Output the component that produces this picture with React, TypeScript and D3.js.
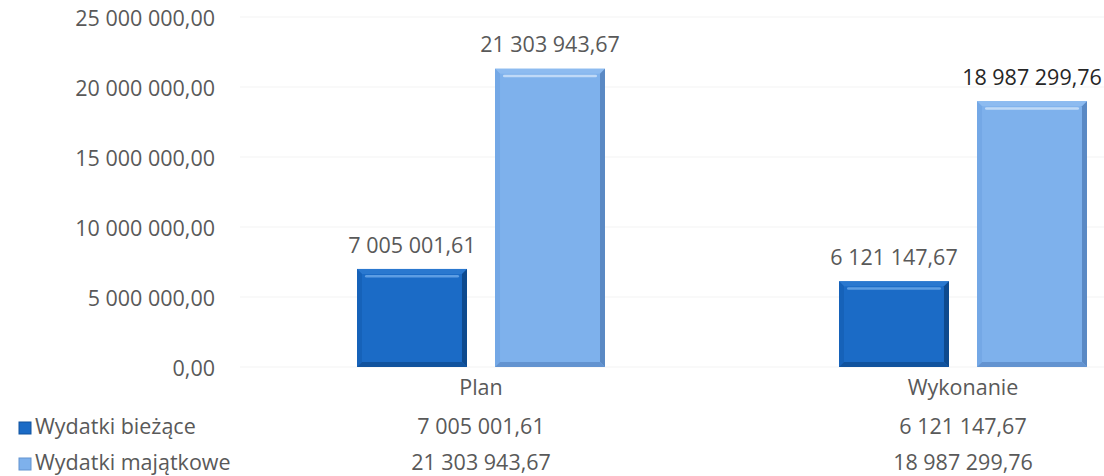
import React from "react";
import * as d3 from "d3";

const categories = ["Plan", "Wykonanie"];
const seriesNames = ["Wydatki bieżące", "Wydatki majątkowe"];
const biezace = [7005001.61, 6121147.67];
const majatkowe = [21303943.67, 18987299.76];
const yTicks = [0, 5000000, 10000000, 15000000, 20000000, 25000000];

const W = 1104;
const H = 476;
const FONT = "'Open Sans', 'Noto Sans', sans-serif";
const FS = 21.5;

const fmt = (v: number) => {
  const [i, d] = v.toFixed(2).split(".");
  return i.replace(/\B(?=(\d{3})+(?!\d))/g, " ") + "," + d;
};

const palettes = [
  { base: "#1b6bc6", top: "#2a78cf", hl: "#6eaaea", side: "#1662b9", bottom: "#11539e", right: "#0e4a8e" },
  { base: "#7eb1ec", top: "#8dbbf0", hl: "#cfe3fa", side: "#74a8e6", bottom: "#6393d0", right: "#5a89c4" },
];

function Bar({ x, y, w, h, p }: { x: number; y: number; w: number; h: number; p: typeof palettes[0] }) {
  const b = 5;
  return (
    <g>
      <rect x={x} y={y} width={w} height={h} fill={p.base} />
      <polygon points={`${x},${y} ${x + w},${y} ${x + w - b},${y + b} ${x + b},${y + b}`} fill={p.top} />
      <polygon points={`${x},${y} ${x + b},${y + b} ${x + b},${y + h - b} ${x},${y + h}`} fill={p.side} />
      <polygon points={`${x + w},${y} ${x + w - b},${y + b} ${x + w - b},${y + h - b} ${x + w},${y + h}`} fill={p.right} />
      <polygon points={`${x},${y + h} ${x + b},${y + h - b} ${x + w - b},${y + h - b} ${x + w},${y + h}`} fill={p.bottom} />
      <rect x={x + b + 3} y={y + b + 1} width={w - 2 * b - 6} height={2.5} rx={1.25} fill={p.hl} opacity={0.8} />
    </g>
  );
}

export default function App() {
  const y = d3.scaleLinear().domain([0, 25000000]).range([367, 17]);
  const x0 = d3.scaleBand<string>().domain(categories).range([240, 1204]).paddingInner(0).paddingOuter(0);
  const x1 = d3.scaleBand<string>().domain(seriesNames).range([-124, 124]).paddingInner(0.203).paddingOuter(0);
  const series = [biezace, majatkowe];
  const rowY = [428, 464];

  return (
    <svg width={W} height={H} style={{ position: "absolute", left: 0, top: 0, background: "#fff" }} fontFamily={FONT}>
      {yTicks.map((t) => (
        <g key={t}>
          <line x1={240} x2={W} y1={y(t)} y2={y(t)} stroke="#f3f3f3" strokeWidth={1} />
          <text x={215} y={y(t) + 3} textAnchor="end" dominantBaseline="middle" fontSize={FS} fill="#595959">
            {fmt(t)}
          </text>
        </g>
      ))}
      {categories.map((c, ci) => {
        const cx = (x0(c) as number) + x0.bandwidth() / 2;
        return (
          <g key={c}>
            {series.map((s, si) => {
              const bx = cx + (x1(seriesNames[si]) as number);
              const top = y(s[ci]);
              const isDarkLabel = ci === 1 && si === 1;
              return (
                <g key={si}>
                  <Bar x={bx} y={top} w={x1.bandwidth()} h={y(0) - top} p={palettes[si]} />
                  <text
                    x={bx + x1.bandwidth() / 2}
                    y={top - 22}
                    textAnchor="middle"
                    dominantBaseline="middle"
                    fontSize={FS}
                    fill={isDarkLabel ? "#262626" : "#595959"}
                  >
                    {fmt(s[ci])}
                  </text>
                  <text x={cx} y={rowY[si]} textAnchor="middle" dominantBaseline="middle" fontSize={FS} fill="#595959">
                    {fmt(s[ci])}
                  </text>
                </g>
              );
            })}
            <text x={cx} y={389} textAnchor="middle" dominantBaseline="middle" fontSize={FS} fill="#595959">
              {c}
            </text>
          </g>
        );
      })}
      {seriesNames.map((n, si) => (
        <g key={n}>
          <rect x={19} y={rowY[si] - 6} width={12} height={12} fill={palettes[si].base} stroke={palettes[si].bottom} strokeWidth={1} />
          <text x={35} y={rowY[si]} dominantBaseline="middle" fontSize={FS} fill="#595959">
            {n}
          </text>
        </g>
      ))}
    </svg>
  );
}
